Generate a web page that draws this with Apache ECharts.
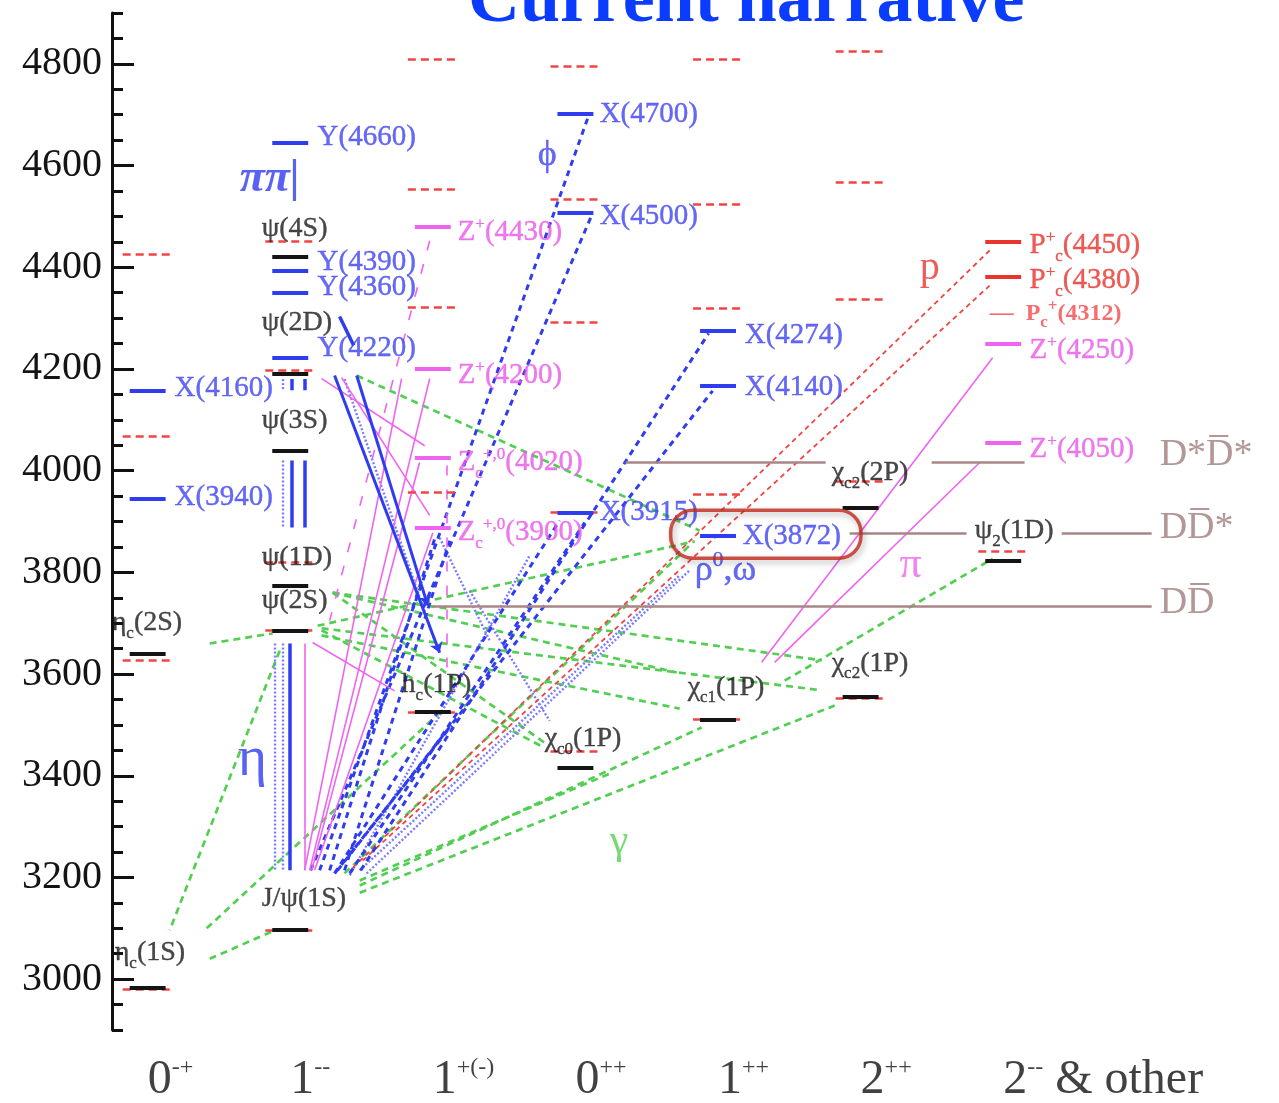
<!DOCTYPE html>
<html><head><meta charset="utf-8">
<script src="https://cdn.jsdelivr.net/npm/echarts@6/dist/echarts.min.js"></script>
<style>html,body{margin:0;padding:0;background:#fff}#c{width:1279px;height:1103px}</style>
</head><body><div id="c"></div>
<script>
// ---------------- DATA ----------------
const categories = ['0^{-+}','1^{--}','1^{+(-)}','0^{++}','1^{++}','2^{++}','2^{--} & other'];
const categoryLabelMass = 2800;
const yMajorTicks = [3000,3200,3400,3600,3800,4000,4200,4400,4600,4800];

// levels: [name, column, mass MeV]
const levelsBlack = [
  ['ηc(1S)',0,2984],['ηc(2S)',0,3639],
  ['J/ψ',1,3097],['ψ(2S)',1,3686],['ψ(1D)',1,3773],['ψ(3S)',1,4040],['ψ(4160)',1,4191],['ψ(4415)',1,4421],
  ['hc(1P)',2,3525],['χc0(1P)',3,3415],['χc1(1P)',4,3511],['χc2(1P)',5,3556],['χc2(2P)',5,3927],['ψ2(1D)',6,3823]
];
const levelsBlue = [
  ['X(3940)',0,3945],['X(4160)',0,4157],
  ['Y(4220)',1,4223],['Y(4360)',1,4349],['Y(4390)',1,4394],['Y(4660)',1,4644],
  ['X(3915)',3,3918],['X(4500)',3,4507],['X(4700)',3,4702],
  ['X(3872)',4,3872],['X(4140)',4,4167],['X(4274)',4,4275]
];
const levelsMagenta = [
  ['Zc(3900)',2,3888],['Zc(4020)',2,4025],['Z(4200)',2,4200],['Z(4430)',2,4479],
  ['Z(4250)',6,4249],['Z(4050)',6,4054]
];
const levelsRed = [['Pc(4450)',6,4451],['Pc(4380)',6,4382]];

// predicted (potential model) levels: [column, mass]
const predicted = [
  [0,2980],[0,3627],[0,4067],[0,4425],
  [1,3097],[1,3686],[1,3820],[1,4197],[1,4452],
  [2,3525],[2,3957],[2,4321],[2,4554],[2,4810],
  [3,3448],[3,3918],[3,4291],[3,4533],[3,4795],
  [4,3511],[4,3954],[4,4319],[4,4523],[4,4810],
  [5,3552],[5,3980],[5,4338],[5,4567],[5,4825],
  [6,3841]
];

// open-charm thresholds: [mass, fromColumn, toColumn]
const thresholdSegments = [
  [4017,3.352,4.755],[4017,5.498,6.150],
  [3877,4.923,5.743],[3877,6.41,7.041],
  [3733,1.999,7.041]
];
const thresholdLabels = [['D*D̅*',7.097,4030],['DD̅*',7.097,3887],['DD̅',7.097,3739]];

// transitions: [col1, mass1, col2, mass2]
const transBlueSolid = [
  [1.00,3660,1.00,3214],[1.01,4020,1.01,3888],[1.10,4020,1.10,3888],
  [1.01,4180,1.01,4158],[1.10,4180,1.10,4158],[1.346,4303,1.445,4246]
];
const transBlueArrow = [[1.311,4187,2.048,3642],[1.466,4187,1.964,3735]];
const transBlueDotted = [
  [0.891,3660,0.891,3214],[0.947,3660,0.947,3214],[0.947,4020,0.947,3888],[0.947,4180,0.947,4158],
  [1.381,4180,2.013,3665],[1.536,3208,3.801,3804],[1.487,3214,3.731,3794],
  [1.417,3204,2.679,3833],[2.048,3868,2.398,3666],[2.258,3764,2.819,3508]
];
const transBlueDashed = [
  [1.206,3214,3.100,4704],[1.143,3214,3.114,4502],[1.494,3214,3.934,4270],
  [1.332,3214,3.962,4157],[1.311,3208,2.889,3902],[1.417,3208,3.065,3898],
  [1.276,3214,2.020,3872],[1.381,3214,2.118,3862],[1.311,3208,2.132,3499]
];
const transMagenta = [
  [1.101,3660,1.101,3214],[1.101,3214,1.781,4181],[1.136,3214,1.978,4181],
  [1.150,3214,1.907,4016],[1.171,3214,2.000,3878],[1.157,3662,1.732,3567],
  [1.220,4181,1.943,4049],[1.360,4183,1.978,3912],
  [4.306,3623,5.926,4222],[4.397,3623,5.835,4016]
];
const transMagentaDashed = [[1.978,4452,1.276,3705],[2.097,4010,2.097,3590]];
const transRedDashed = [[1.438,3219,5.905,4433],[1.508,3233,5.905,4364]];
const transGreen = [
  [0.926,3646,0.154,3096],[0.435,3040,0.891,3096],[0.414,3100,2.048,3524],
  [0.435,3660,0.877,3680],[1.466,4187,3.871,3882],[1.192,3695,3.836,3861],
  [1.381,3208,3.801,3853],[1.487,3194,3.254,3406],[1.487,3184,3.885,3495],
  [1.487,3170,4.818,3538],[1.220,3686,2.763,3458],[1.220,3676,3.731,3532],
  [1.220,3690,4.727,3568],[1.297,3760,3.710,3603],[1.297,3760,2.784,3465],
  [4.467,3587,5.926,3827],[1.297,3760,4.727,3627]
];

// labels: [text, column (left edge), mass (centre)]
const labelsBlack = [
  ['η_{c}(1S)',-0.231,3052],['η_{c}(2S)',-0.252,3701],
  ['J/ψ(1S)',0.80,3158],['ψ(2S)',0.80,3745],['ψ(1D)',0.80,3829],['ψ(3S)',0.80,4098],
  ['ψ(2D)',0.80,4291],['ψ(4S)',0.80,4476],
  ['h_{c}(1P)',1.781,3579],['χ_{c0}(1P)',2.784,3473],['χ_{c1}(1P)',3.787,3574],
  ['χ_{c2}(1P)',4.797,3621],['χ_{c2}(2P)',4.797,3996],['ψ_{2}(1D)',5.80,3882]
];
const labelsBlue = [
  ['X(4160)',0.189,4161],['X(3940)',0.189,3947],
  ['Y(4660)',1.192,4655],['Y(4390)',1.192,4409],['Y(4360)',1.192,4360],['Y(4220)',1.192,4240],
  ['X(4700)',3.170,4700],['X(4500)',3.170,4500],['X(3915)',3.170,3918],
  ['X(4140)',4.187,4164],['X(4274)',4.187,4266]
];
const labelHighlight = [['X(3872)',3.668,3875]];
const labelsMagenta = [
  ['Z^{+}(4430)',2.174,4468],['Z^{+}(4200)',2.174,4187],
  ['Z_{c}^{+,0}(4020)',2.174,4016],['Z_{c}^{+,0}(3900)',2.174,3878],
  ['Z^{+}(4250)',6.185,4237],['Z^{+}(4050)',6.185,4041]
];
const labelsRed = [['P^{+}_{c}(4450)',6.185,4443],['P^{+}_{c}(4380)',6.185,4374]];
const labelsRedBold = [['—  P_{c}^{+}(4312)',5.905,4309]];
const symbolsBlue = [['ϕ',2.735,4620],['ρ^{0},ω',3.836,3804]];
const symbolPiPi = [['ππ|',0.645,4574]];
const symbolEta = [['η',0.631,3430]];
const symbolRed = [['p',5.414,4397]];
const symbolMagenta = [['π',5.273,3813]];
const symbolGreen = [['γ',3.240,3269]];

// ---------------- STYLE / BUILD ----------------
const SERIF = '"Liberation Serif","Times New Roman",serif';
const C = {black:'#141414', blue:'#2f3cf0', blueTxt:'#3f43f2', blueDot:'#7b7bff',
  mag:'#f063f0', magTxt:'#ea58e8', red:'#e8352e', redDash:'#f04444',
  green:'#52cf52', brown:'#a88686', brownTxt:'#a07c7c'};
const HW = 0.126, PHW = 0.175;

function toRich(s){
  let out='', buf='', i=0;
  const flush=()=>{ if(buf){ out+='{m|'+buf+'}'; buf=''; } };
  while(i<s.length){
    const ch=s[i];
    if((ch==='_'||ch==='^') && s[i+1]==='{'){
      const j=s.indexOf('}',i);
      flush();
      out+='{'+(ch==='_'?'sub':'sup')+'|'+s.slice(i+2,j)+'}';
      i=j+1;
    } else { buf+=ch; i++; }
  }
  flush();
  return out;
}
function richFor(color, fs, weight, style, subScale, shift, heavy){
  const sfs=Math.round(fs*(subScale||0.6));
  const sh=Math.round(fs*(shift||0.75));
  const hb = heavy ? {textBorderColor:color, textBorderWidth:heavy} : {};
  return {
    m:Object.assign({color, fontSize:fs, fontFamily:SERIF, fontWeight:weight||'normal', fontStyle:style||'normal'}, hb),
    sub:Object.assign({color, fontSize:sfs, fontFamily:SERIF, fontWeight:weight||'normal', padding:[sh,0,0,0]}, hb),
    sup:Object.assign({color, fontSize:sfs, fontFamily:SERIF, fontWeight:weight||'normal', padding:[0,0,Math.round(fs*0.55),0]}, hb)
  };
}
function labelSeries(items, color, fs, o){
  o=o||{};
  return {type:'scatter', symbolSize:0.01, clip:false, silent:true, z:o.z||20,
    itemStyle:{color:'rgba(0,0,0,0)'},
    data: items.map(([t,c,m])=>({name:t, value:[c,m]})),
    label: Object.assign({show:true, position:'right', distance:0,
      formatter:p=>toRich(p.name), rich:richFor(color, fs, o.weight, o.style, o.subScale, o.shift, o.heavy)}, o.label||{})
  };
}
function segs(list){ return list.map(([a,b,c,d])=>({coords:[[a,b],[c,d]]})); }
function linesSeries(data, lineStyle, z, extra){
  return Object.assign({type:'lines', coordinateSystem:'cartesian2d', polyline:false, silent:true, z:z,
    symbol:['none','none'], lineStyle:Object.assign({opacity:1, curveness:0}, lineStyle), data:data}, extra||{});
}
function levelData(list, color){ return list.map(([n,c,m])=>({coords:[[c-HW,m],[c+HW,m]], lineStyle:{color}})); }

const series = [
  // transitions
  linesSeries(segs(transGreen), {color:C.green, width:2.7, type:[7,5]}, 2),
  linesSeries(segs(transBlueDotted), {color:C.blueDot, width:2.4, type:[2,2]}, 3),
  linesSeries(segs(transRedDashed), {color:C.redDash, width:1.8, type:[5,4]}, 3),
  linesSeries(segs(transBlueDashed), {color:C.blue, width:3, type:[6,5]}, 4),
  linesSeries(segs(transMagenta), {color:C.mag, width:1.6, type:'solid'}, 4),
  linesSeries(segs(transMagentaDashed), {color:C.mag, width:1.6, type:[10,14]}, 4),
  linesSeries(segs(transBlueSolid), {color:C.blue, width:3.5, type:'solid'}, 5),
  linesSeries(segs(transBlueArrow), {color:C.blue, width:3, type:'solid'}, 5, {symbol:['none','arrow'], symbolSize:10}),
  // thresholds
  linesSeries(thresholdSegments.map(([m,a,b])=>({coords:[[a,m],[b,m]]})), {color:C.brown, width:2.6, type:'solid'}, 6),
  // predicted levels
  linesSeries(predicted.map(([c,m])=>({coords:[[c-PHW,m],[c+PHW,m]]})), {color:C.redDash, width:2.6, type:[8,5]}, 7),
  // observed levels
  linesSeries(levelData(levelsBlack,C.black).concat(levelData(levelsBlue,C.blue),
     levelData(levelsMagenta,C.mag), levelData(levelsRed,C.red)), {width:4, type:'solid'}, 8),
  // labels
  labelSeries(labelsBlack, '#1a1a1a', 28, {heavy:0.4}),
  labelSeries(labelsBlue, C.blueTxt, 29, {heavy:0.4}),
  labelSeries(labelsMagenta, C.magTxt, 29, {heavy:0.4}),
  labelSeries(labelsRed, C.red, 29, {heavy:0.4}),
  labelSeries(labelsRedBold, '#f04a4a', 24, {weight:'bold', subScale:0.7}),
  labelSeries(symbolsBlue, C.blueTxt, 36, {heavy:0.4}),
  labelSeries(symbolPiPi, C.blue, 46, {weight:'bold', style:'italic'}),
  labelSeries(symbolEta, C.blue, 56),
  labelSeries(symbolRed, C.red, 40),
  labelSeries(symbolMagenta, C.mag, 44),
  labelSeries(symbolGreen, C.green, 42),
  labelSeries(thresholdLabels, C.brownTxt, 38),
  labelSeries(labelHighlight, C.blueTxt, 29, {z:30, heavy:0.4, label:{padding:[12,20,7,72], borderColor:'#c0281c',
     borderWidth:3.5, borderRadius:22, shadowBlur:6, shadowColor:'rgba(0,0,0,0.35)', shadowOffsetX:2, shadowOffsetY:3}}),
  // category labels (quantum numbers)
  labelSeries(categories.map((t,i)=>[t,i,categoryLabelMass]), '#111', 48, {subScale:0.5})
];

const chart = echarts.init(document.getElementById('c'), null, {renderer:'canvas'});
chart.setOption({
  animation:false,
  backgroundColor:'#ffffff',
  title:{text:'Current narrative', left:468, top:-34, padding:0,
    textStyle:{fontFamily:SERIF, fontWeight:'bold', fontSize:72, color:'#0a3cff'}},
  grid:{left:112, right:12, top:13, bottom:73, containLabel:false},
  xAxis:{type:'value', min:-0.25, max:7.85, show:false},
  yAxis:[
    {type:'value', min:2900, max:4900, interval:50, position:'left',
      axisLine:{show:true, onZero:false, lineStyle:{color:'#111', width:3}},
      axisTick:{show:true, inside:true, length:11, lineStyle:{color:'#111', width:3}},
      axisLabel:{show:false}, splitLine:{show:false}},
    {type:'value', min:2900, max:4900, position:'left',
      axisLine:{show:false, onZero:false},
      axisTick:{show:true, inside:true, length:22, customValues:yMajorTicks, lineStyle:{color:'#111', width:3}},
      axisLabel:{show:true, margin:10, customValues:yMajorTicks, formatter:v=>String(v),
        fontFamily:SERIF, fontSize:40, color:'#141414'},
      splitLine:{show:false}}
  ],
  series: series
});
</script></body></html>
